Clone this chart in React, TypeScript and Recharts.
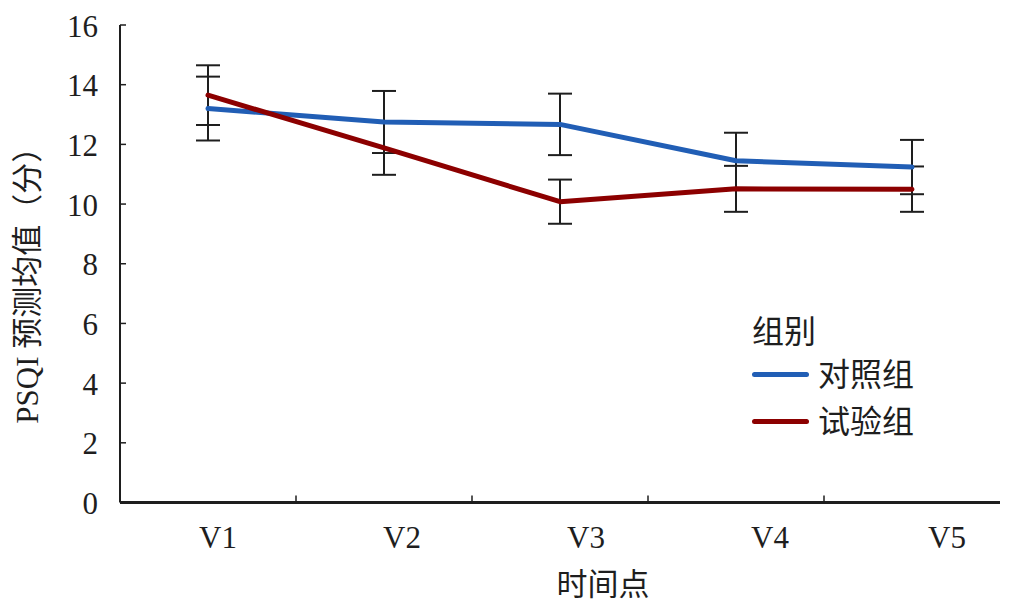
import React from "react";
import { LineChart, Line, XAxis, YAxis, ErrorBar, Label } from "recharts";

const timepoints = ["V1", "V2", "V3", "V4", "V5"];
const controlMean = [13.2, 12.75, 12.67, 11.45, 11.24];
const controlErr = [1.07, 1.04, 1.03, 0.94, 0.91];
const trialMean = [13.65, 11.88, 10.08, 10.51, 10.5];
const trialErr = [1.0, 0.9, 0.74, 0.77, 0.76];
const yTicks = [0, 2, 4, 6, 8, 10, 12, 14, 16];

const legendTitle = "组别";
const series = [
  { key: "control", name: "对照组", color: "#215EB5" },
  { key: "trial", name: "试验组", color: "#8C0000" },
];

const data = timepoints.map((t, i) => ({
  x: i + 1,
  label: t,
  control: controlMean[i],
  controlErr: controlErr[i],
  trial: trialMean[i],
  trialErr: trialErr[i],
}));

// category centres plus the band boundaries between them
const xTicks: number[] = [];
for (let i = 1; i <= timepoints.length; i++) {
  xTicks.push(i);
  if (i < timepoints.length) xTicks.push(i + 0.5);
}

const FONT = "'Liberation Serif', 'Noto Sans CJK SC', serif";
const INK = "#1e1e1e";

function XTick(props: any) {
  const { x, y, payload } = props;
  const v = payload.value as number;
  if (!Number.isInteger(v)) {
    return <line x1={x} x2={x} y1={y} y2={y - 7} stroke={INK} strokeWidth={1.5} />;
  }
  const dx = Math.min(10 + (v - 1) * 8, 35);
  return (
    <text x={x + dx} y={y + 35} textAnchor="middle" dominantBaseline="central" fontSize={31} fill={INK} fontFamily={FONT}>
      {timepoints[v - 1]}
    </text>
  );
}

function YTick(props: any) {
  const { x, y, payload } = props;
  return (
    <g>
      {payload.value > 0 && <line x1={x} x2={x + 6} y1={y} y2={y} stroke={INK} strokeWidth={1.5} />}
      <text x={x - 22} y={y + 1} textAnchor="end" dominantBaseline="central" fontSize={31} fill={INK} fontFamily={FONT}>
        {payload.value}
      </text>
    </g>
  );
}

export default function App() {
  return (
    <div style={{ position: "absolute", left: 0, top: 0, width: 1020, height: 608, background: "#fff", fontFamily: FONT }}>
      <LineChart width={1020} height={608} data={data} margin={{ top: 25, right: 20, left: 0, bottom: 0 }}>
        <XAxis
          dataKey="x"
          type="number"
          domain={[0.5, 5.5]}
          ticks={xTicks}
          interval={0}
          height={105.5}
          tickSize={0}
          tickMargin={0}
          tickLine={false}
          tick={<XTick />}
          axisLine={{ stroke: INK, strokeWidth: 3 }}
        >
          <Label
            content={(p: any) => {
              const vb = p.viewBox;
              return (
                <text x={vb.x + vb.width / 2 + 43} y={vb.y + 82} textAnchor="middle" dominantBaseline="central" fontSize={31} fill={INK} fontFamily={FONT}>
                  时间点
                </text>
              );
            }}
          />
        </XAxis>
        <YAxis
          type="number"
          domain={[0, 16]}
          ticks={yTicks}
          interval={0}
          width={120}
          tickSize={0}
          tickMargin={0}
          tickLine={false}
          tick={<YTick />}
          axisLine={{ stroke: INK, strokeWidth: 2 }}
        >
          <Label
            content={(p: any) => {
              const vb = p.viewBox;
              const cx = vb.x + 27;
              const cy = vb.y + vb.height / 2 + 14;
              return (
                <text x={cx} y={cy} transform={`rotate(-90 ${cx} ${cy})`} textAnchor="middle" dominantBaseline="central" fontSize={31} fill={INK} fontFamily={FONT}>
                  PSQI 预测均值（分）
                </text>
              );
            }}
          />
        </YAxis>

        {/* error bars sit under the lines */}
        {series.map((s) => (
          <Line key={s.key + "-err"} dataKey={s.key} stroke="none" dot={false} activeDot={false} legendType="none" isAnimationActive={false}>
            <ErrorBar dataKey={s.key + "Err"} direction="y" width={12} stroke={INK} strokeWidth={2} isAnimationActive={false} />
          </Line>
        ))}
        {series.map((s) => (
          <Line
            key={s.key}
            type="linear"
            dataKey={s.key}
            name={s.name}
            stroke={s.color}
            strokeWidth={5}
            strokeLinecap="round"
            strokeLinejoin="round"
            dot={false}
            activeDot={false}
            isAnimationActive={false}
          />
        ))}
      </LineChart>

      <div style={{ position: "absolute", left: 752, top: 311, color: INK, fontSize: 32, lineHeight: "42px" }}>
        <div style={{ height: 40 }}>{legendTitle}</div>
        {series.map((s) => (
          <div key={s.key} style={{ display: "flex", alignItems: "center", height: 47 }}>
            <div style={{ width: 57, height: 5, borderRadius: 3, background: s.color, marginRight: 9 }} />
            <span>{s.name}</span>
          </div>
        ))}
      </div>
    </div>
  );
}
